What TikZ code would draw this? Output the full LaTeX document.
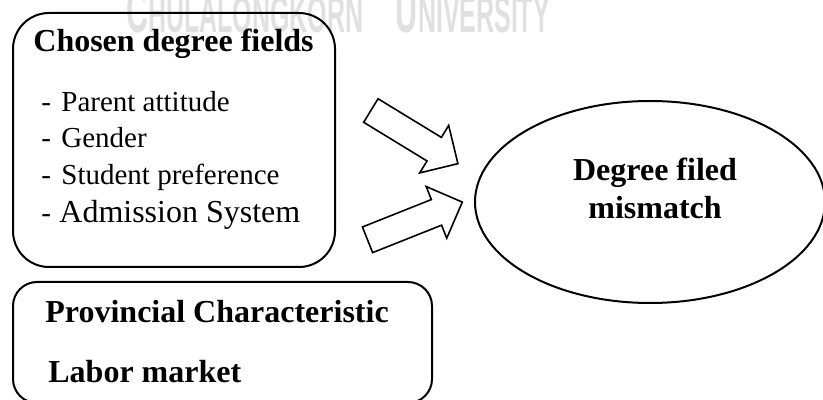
\documentclass[tikz,border=0pt]{standalone}
\usepackage{fontspec}
\setmainfont{Liberation Serif}
\newfontfamily\wmfont{Liberation Sans}
\usetikzlibrary{shapes.geometric,shapes.arrows}
\definecolor{wmgray}{HTML}{E0E0E0}
\tikzset{
	roundbox/.style={draw, line width=1pt, rounded corners=#1, inner sep=0pt},
	fatarrow/.style={draw, single arrow, line width=0.8pt, inner xsep=0pt, inner ysep=6.5pt,
		single arrow head extend=7pt, minimum height=51pt},
	headtxt/.style={anchor=base west, inner sep=0pt, font=\fontsize{16}{19}\selectfont\bfseries},
	itemtxt/.style={anchor=base west, inner sep=0pt, font=\fontsize{14.5}{17}\selectfont},
}
\newcommand{\dashitem}[1]{\makebox[10pt][l]{-}#1}

\begin{document}
\begin{tikzpicture}[x=0.5pt, y=-0.5pt]
	%%%%% START %%%%%
	\useasboundingbox (0, 0) rectangle (823, 400);
	
	% watermark
	\node[anchor=base west, inner sep=0pt, text=wmgray, xscale=0.48, font=\wmfont\bfseries] (wmark) at (126, 33)
	{\fontsize{32}{32}\selectfont C\fontsize{26}{26}\selectfont HULALONGKORN\hspace{34pt}\fontsize{32}{32}\selectfont U\fontsize{26}{26}\selectfont NIVERSITY};
	
	% chosen degree fields
	\node[roundbox=18pt, minimum width=161pt, minimum height=127pt] (fields) at (174, 140) {};
	\node[headtxt] (fieldstitle) at (33, 52) {Chosen degree fields};
	\node[itemtxt] (parent) at (41, 112) {\dashitem{Parent attitude}};
	\node[itemtxt] (gender) at (41, 148) {\dashitem{Gender}};
	\node[itemtxt] (pref) at (41, 185) {\dashitem{Student preference}};
	\node[itemtxt, font=\fontsize{16}{19}\selectfont] (admit) at (41, 223) {\makebox[9pt][l]{\fontsize{14.5}{17}\selectfont -}Admission System};
	
	% provincial characteristic
	\node[roundbox=12pt, minimum width=209.5pt, minimum height=60.5pt] (prov) at (222.5, 342.5) {};
	\node[headtxt] (provtitle) at (45, 322) {Provincial Characteristic};
	\node[headtxt] (labor) at (48, 382) {Labor market};
	
	% outcome
	\node[draw, ellipse, line width=1pt, inner sep=0pt, minimum width=175pt, minimum height=101pt] (mismatch) at (650, 202) {};
	\node[align=center, inner sep=0pt, font=\fontsize{16}{19}\selectfont\bfseries] (mismatchtxt) at (655, 188) {Degree filed\\mismatch};
	
	% block arrows
	\node[fatarrow, rotate=-31.4] (arrup) at (408.5, 133.5) {};
	\node[fatarrow, rotate=21.7] (arrlow) at (408.5, 223.5) {};
	
	%%%%% END %%%%%
\end{tikzpicture}
\end{document}
